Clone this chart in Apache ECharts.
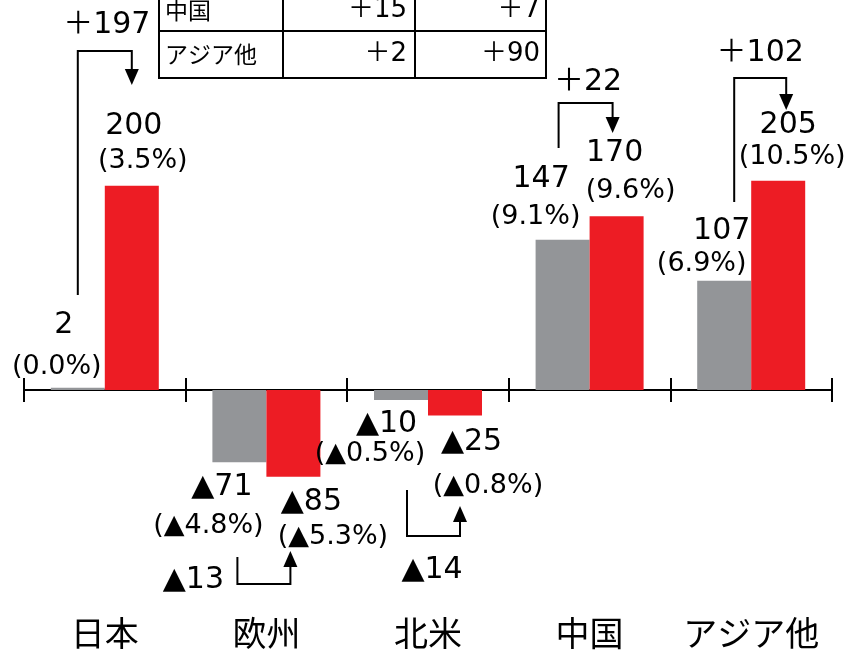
<!DOCTYPE html>
<html>
<head>
<meta charset="utf-8">
<script src="https://cdn.jsdelivr.net/npm/echarts@6/dist/echarts.min.js"></script>
<style>
  html, body { margin: 0; padding: 0; background: #fff; }
  #chart { width: 848px; height: 650px; }
</style>
</head>
<body>
<div id="chart"></div>
<script>
// ---- data ----
const categories = ['日本', '欧州', '北米', '中国', 'アジア他'];
const prevValues = [2, -71, -10, 147, 107];
const currValues = [200, -85, -25, 170, 205];
const prevShares = ['0.0%', '▲4.8%', '▲0.5%', '9.1%', '6.9%'];
const currShares = ['3.5%', '▲5.3%', '▲0.8%', '9.6%', '10.5%'];
const changes = ['＋197', '▲13', '▲14', '＋22', '＋102'];
const tableRegions = ['中国', 'アジア他'];
const tableColA = ['＋15', '＋2'];
const tableColB = ['＋7', '＋90'];

// ---- layout (pixel nudges, kept apart from data) ----
const BAR_W = 54;
const prevValueNudge = [[-14, -63], [-17.5, 25], [-14.5, 24], [-21.5, -61], [-2.5, -49]];
const prevPctNudge   = [[-21, -21], [-31, 64], [-31, 54], [-27, -23], [-22.5, -17]];
const currValueNudge = [[2, -60], [18, 26], [16.5, 27], [-2, -63], [10, -55]];
const currPctNudge   = [[11, -25], [39.5, 60], [33, 71], [14, -25], [14, -24]];
// bracket: vx, ax relative to category centre; y1 (start), yh (horizontal), yt (tip), text dx, dy relative to zero line
const bracketLayout = [
  { vx: -27, ax: 27, y1: -95, yh: -339, yt: -305, tx: 2, ty: -365 },
  { vx: -29, ax: 24, y1: 167, yh: 194, yt: 161, tx: -73, ty: 190 },
  { vx: -21, ax: 32, y1: 100, yh: 146, yt: 116, tx: 4, ty: 180 },
  { vx: -31, ax: 23, y1: -242, yh: -287, yt: -257, tx: -1.6, ty: -308 },
  { vx: -17, ax: 35, y1: -188, yh: -312, yt: -280, tx: 9, ty: -337 }
];

const LATIN = '"DejaVu Sans", "Noto Sans CJK JP", sans-serif';
const CJK = '"Noto Sans CJK JP", "DejaVu Sans", sans-serif';

function fmtVal(v) { return v < 0 ? '▲' + Math.abs(v) : String(v); }

const labelData = [];
categories.forEach((c, i) => {
  labelData.push([i, prevValues[i], -1]);
  labelData.push([i, currValues[i], 1]);
});
const bracketData = categories.map((c, i) => [i, 0]);

function textEl(text, x, y, size, family, align) {
  return {
    type: 'text',
    silent: true,
    style: {
      text: text, x: x, y: y,
      font: size + 'px ' + family,
      fill: '#000',
      align: align || 'center', verticalAlign: 'middle',
      textAlign: align || 'center', textVerticalAlign: 'middle'
    }
  };
}

function renderLabels(params, api) {
  const i = api.value(0);
  const v = api.value(1);
  const side = api.value(2);
  const zero = api.coord([i, 0]);
  const end = api.coord([i, v]);
  const bx = zero[0] + side * BAR_W / 2;
  const by = end[1];
  const isPrev = side < 0;
  const vn = isPrev ? prevValueNudge[i] : currValueNudge[i];
  const pn = isPrev ? prevPctNudge[i] : currPctNudge[i];
  const share = isPrev ? prevShares[i] : currShares[i];
  return {
    type: 'group',
    children: [
      textEl(fmtVal(v), bx + vn[0], by + vn[1], 30, LATIN),
      textEl('(' + share + ')', bx + pn[0], by + pn[1], 27, LATIN)
    ]
  };
}

function renderBrackets(params, api) {
  const i = api.value(0);
  const zero = api.coord([i, 0]);
  const cx = zero[0], y0 = zero[1];
  const L = bracketLayout[i];
  const vx = cx + L.vx, ax = cx + L.ax;
  const y1 = y0 + L.y1, yh = y0 + L.yh, yt = y0 + L.yt;
  const dir = yt > yh ? 1 : -1;
  const base = yt - dir * 16;
  return {
    type: 'group',
    children: [
      {
        type: 'polyline', silent: true,
        shape: { points: [[vx, y1], [vx, yh], [ax, yh], [ax, base]] },
        style: { stroke: '#000', lineWidth: 2, fill: null }
      },
      {
        type: 'polygon', silent: true,
        shape: { points: [[ax - 7, base], [ax + 7, base], [ax, yt]] },
        style: { fill: '#000' }
      },
      textEl(changes[i], cx + L.tx, y0 + L.ty, 30, LATIN)
    ]
  };
}

// table graphic
const tableX = [159, 283, 415, 546];
const tableRowY = [-20, 31, 78];
const tableTextY = [10, 54];
const graphic = [];
tableX.forEach(x => graphic.push({
  type: 'line', silent: true,
  shape: { x1: x, y1: tableRowY[0], x2: x, y2: tableRowY[2] },
  style: { stroke: '#000', lineWidth: 2 }
}));
tableRowY.slice(1).forEach(y => graphic.push({
  type: 'line', silent: true,
  shape: { x1: tableX[0] - 1, y1: y, x2: tableX[3] + 1, y2: y },
  style: { stroke: '#000', lineWidth: 2 }
}));
tableRegions.forEach((r, k) => {
  const cy = tableTextY[k];
  graphic.push(textEl(r, tableX[0] + 6, cy, 23, CJK, 'left'));
  graphic.push(textEl(tableColA[k], tableX[2] - 8, cy, 26, LATIN, 'right'));
  graphic.push(textEl(tableColB[k], tableX[3] - 6, cy, 26, LATIN, 'right'));
});

const axisLineStyle = { color: '#000', width: 2 };
const hiddenY = { type: 'value', min: -200, max: 382, axisLine: { show: false }, axisTick: { show: false }, axisLabel: { show: false }, splitLine: { show: false } };
const option = {
  animation: false,
  backgroundColor: '#fff',
  grid: { left: 24, right: 16, top: 0, height: 594, outerBoundsMode: 'none', containLabel: false },
  xAxis: [
    {
      // category labels at the foot of the plot
      type: 'category', data: categories, position: 'bottom',
      axisLine: { show: false, onZero: false },
      axisTick: { show: false },
      axisLabel: { interval: 0, margin: 22, fontSize: 34, color: '#000', fontFamily: CJK }
    },
    {
      // zero line, ticks pointing down
      type: 'category', data: categories, position: 'bottom',
      axisLine: { show: true, onZero: true, onZeroAxisIndex: 0, lineStyle: axisLineStyle },
      axisTick: { show: true, interval: 0, length: 12, lineStyle: axisLineStyle },
      axisLabel: { show: false }
    },
    {
      // zero line, ticks pointing up
      type: 'category', data: categories, position: 'top',
      axisLine: { show: true, onZero: true, onZeroAxisIndex: 1, lineStyle: axisLineStyle },
      axisTick: { show: true, interval: 0, length: 12, lineStyle: axisLineStyle },
      axisLabel: { show: false }
    }
  ],
  yAxis: [
    Object.assign({ position: 'left' }, hiddenY),
    Object.assign({ position: 'right' }, hiddenY)
  ],
  series: [
    { type: 'bar', data: prevValues, barWidth: BAR_W, barGap: 0, itemStyle: { color: '#939598' }, silent: true },
    { type: 'bar', data: currValues, barWidth: BAR_W, barGap: 0, itemStyle: { color: '#ED1C24' }, silent: true },
    { type: 'custom', data: labelData, renderItem: renderLabels, silent: true, clip: false, z: 5 },
    { type: 'custom', data: bracketData, renderItem: renderBrackets, silent: true, clip: false, z: 5 }
  ],
  graphic: graphic
};

const chart = echarts.init(document.getElementById('chart'), null, { renderer: 'canvas' });
chart.setOption(option);
</script>
</body>
</html>
